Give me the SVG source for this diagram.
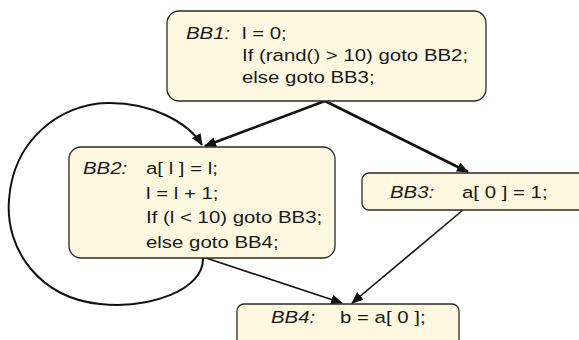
<svg xmlns="http://www.w3.org/2000/svg" width="579" height="340" viewBox="0 0 579 340">
  <style>
    .box { fill: #fef8e0; stroke: #2a2a2a; stroke-width: 1.3; }
    .t { font-family: "Liberation Sans", Arial, sans-serif; font-size: 17px; fill: #1a1a1a; }
    .lbl { font-style: italic; }
    .thick { fill: none; stroke: #111; stroke-width: 2.6; }
    .mid { fill: none; stroke: #111; stroke-width: 2; }
    .thin { fill: none; stroke: #111; stroke-width: 1.6; }
  </style>
  <defs>
    <marker id="arr" viewBox="0 0 12 10" refX="11" refY="5" markerWidth="12" markerHeight="10" markerUnits="userSpaceOnUse" orient="auto">
      <path d="M0,0 L12,5 L0,10 z" fill="#111"/>
    </marker>
  </defs>

  <rect width="579" height="340" fill="#ffffff"/>

  <g id="connectors">
    <path class="thick" d="M325,101 L205,146" marker-end="url(#arr)"/>
    <path class="thick" d="M325,101 L468,172" marker-end="url(#arr)"/>
    <path class="mid" d="M203,258 C204,290 150,309 100,304 C40,298 5,250 9,200 C13,140 60,104 107,103 C150,102 188,122 202,145" marker-end="url(#arr)"/>
    <path class="thin" d="M203,257 L342,303" marker-end="url(#arr)"/>
    <path class="thin" d="M463,210 L352,303" marker-end="url(#arr)"/>
  </g>

  <!-- text is set in a slightly widened Arial-style face -->
  <g id="BB1">
    <rect class="box" x="167" y="11" width="319" height="90" rx="12"/>
    <text class="t lbl" transform="translate(186,39) scale(1.2,1)">BB1:</text>
    <text class="t" transform="translate(242,39) scale(1.2,1)">l = 0;</text>
    <text class="t" transform="translate(242,61) scale(1.2,1)">If (rand() &gt; 10) goto BB2;</text>
    <text class="t" transform="translate(242,83) scale(1.2,1)">else goto BB3;</text>
  </g>

  <g id="BB2">
    <rect class="box" x="69" y="147" width="266" height="111" rx="12"/>
    <text class="t lbl" transform="translate(83,174) scale(1.2,1)">BB2:</text>
    <text class="t" transform="translate(146,174) scale(1.2,1)">a[ l ] = l;</text>
    <text class="t" transform="translate(146,198.5) scale(1.2,1)">l = l + 1;</text>
    <text class="t" transform="translate(146,223) scale(1.2,1)">If (l &lt; 10) goto BB3;</text>
    <text class="t" transform="translate(146,247.5) scale(1.2,1)">else goto BB4;</text>
  </g>

  <g id="BB3">
    <rect class="box" x="362" y="173" width="230" height="37" rx="7"/>
    <text class="t lbl" transform="translate(390,198) scale(1.2,1)">BB3:</text>
    <text class="t" transform="translate(462,198) scale(1.2,1)">a[ 0 ] = 1;</text>
  </g>

  <g id="BB4">
    <rect class="box" x="237" y="304" width="222" height="50" rx="7"/>
    <text class="t lbl" transform="translate(271,323) scale(1.2,1)">BB4:</text>
    <text class="t" transform="translate(340,323) scale(1.2,1)">b = a[ 0 ];</text>
  </g>
</svg>
